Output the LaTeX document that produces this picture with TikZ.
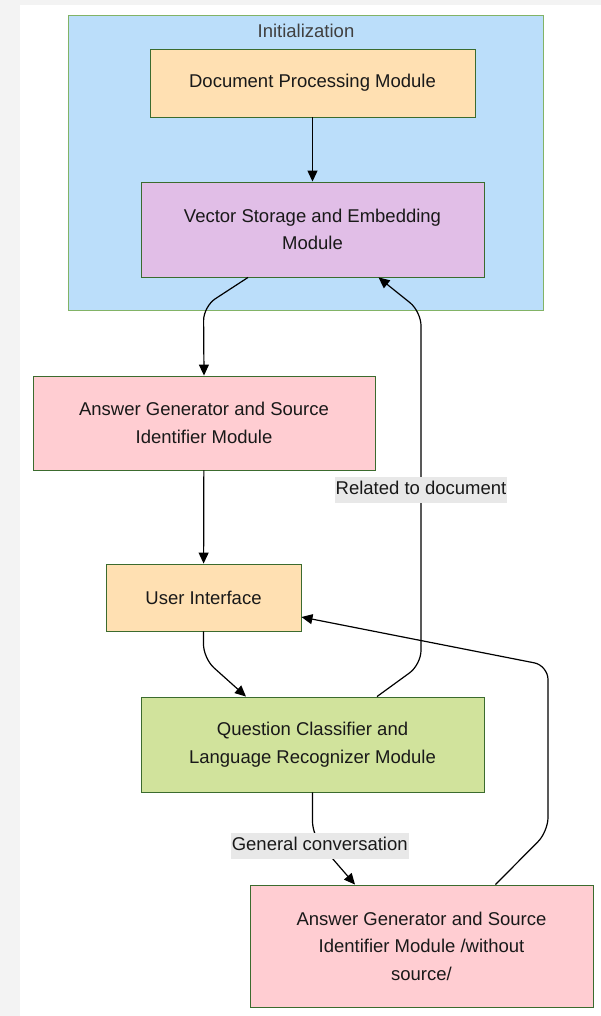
\documentclass[tikz,border=0pt]{standalone}
\usepackage{fontspec}
\setmainfont{Liberation Sans}
\usepackage{tikz}
\usetikzlibrary{arrows.meta, positioning, calc}

\definecolor{pagegrey}{HTML}{F3F3F3}
\definecolor{clusterfill}{HTML}{BBDEFA}
\definecolor{clusterline}{HTML}{82B366}
\definecolor{boxline}{HTML}{3B6B2E}
\definecolor{orangefill}{HTML}{FFE0B2}
\definecolor{purplefill}{HTML}{E1BEE7}
\definecolor{redfill}{HTML}{FFCDD2}
\definecolor{greenfill}{HTML}{D1E39C}
\definecolor{lblgrey}{HTML}{E8E8E8}

\begin{document}
\begin{tikzpicture}[
                    x=1pt, y=-1pt,
                    >={Triangle[length=11pt,width=10pt]},
                    txt/.style={font=\fontsize{18.5}{27.5}\selectfont, text=black!90},
                    mod/.style={txt, draw=boxline, line width=0.9pt, inner sep=0pt, align=center},
                    cluster/.style={draw=clusterline, fill=clusterfill, line width=1pt, inner sep=0pt},
                    lbl/.style={txt, sharp corners, fill=lblgrey, inner xsep=1pt, inner ysep=4pt, text height=13.5pt, text depth=4pt, yshift=-2pt},
                    link/.style={->, line width=1.2pt, rounded corners=14pt},
                ]
                \useasboundingbox (0,0) rectangle (601,1016);
                \fill[pagegrey] (0,0) rectangle (601,1016);
                \fill[white] (20,5) rectangle (601,1016);

                % initialization group
                \node[cluster, minimum width=475pt, minimum height=294pt] (init) at (305.5,163) {};
                \node[txt, text=black!75] (initname) at (306,31) {Initialization};

                \node[mod, fill=orangefill, minimum width=325pt, minimum height=68pt] (doc) at (312.5,83) {Document Processing Module};
                \node[mod, fill=purplefill, minimum width=343pt, minimum height=95pt] (vec) at (312.5,229.5) {Vector Storage and Embedding\\Module};

                % main flow
                \node[mod, fill=redfill, minimum width=342pt, minimum height=94pt] (ans) at (204,423) {Answer Generator and Source\\Identifier Module};
                \node[mod, fill=orangefill, minimum width=195pt, minimum height=67pt] (ui) at (203.5,597.5) {User Interface};
                \node[mod, fill=greenfill, minimum width=343pt, minimum height=95pt] (qc) at (312.5,744.5) {Question Classifier and\\Language Recognizer Module};
                \node[mod, fill=redfill, minimum width=343pt, minimum height=122pt] (ans2) at (421.5,946) {Answer Generator and Source\\Identifier Module /without\\source/};

                % connectors
                \draw[link] (doc) -- (vec);
                \draw[link] ([xshift=-64.5pt]vec.south) -- ++(-44.5,29) -- (ans.north);
                \draw[link] (ans) -- (ui);
                \draw[link] (ui.south) -- ++(0,27) -- ([xshift=-66.5pt]qc.north);
                \draw[link] ([xshift=64.5pt]qc.north) -- ++(44,-32) -- node[lbl]{Related to document} ++(0,-353) -- ([xshift=66pt]vec.south);
                \draw[link] (qc.south) -- ++(0,43) -- node[lbl, pos=0.17]{General conversation} ([xshift=-66.5pt]ans2.north);
                \draw[link] ([xshift=74pt]ans2.north) -- ++(52.5,-53) -- ++(0,-166) -- ([yshift=-19.5pt]ui.east);
\end{tikzpicture}
\end{document}
